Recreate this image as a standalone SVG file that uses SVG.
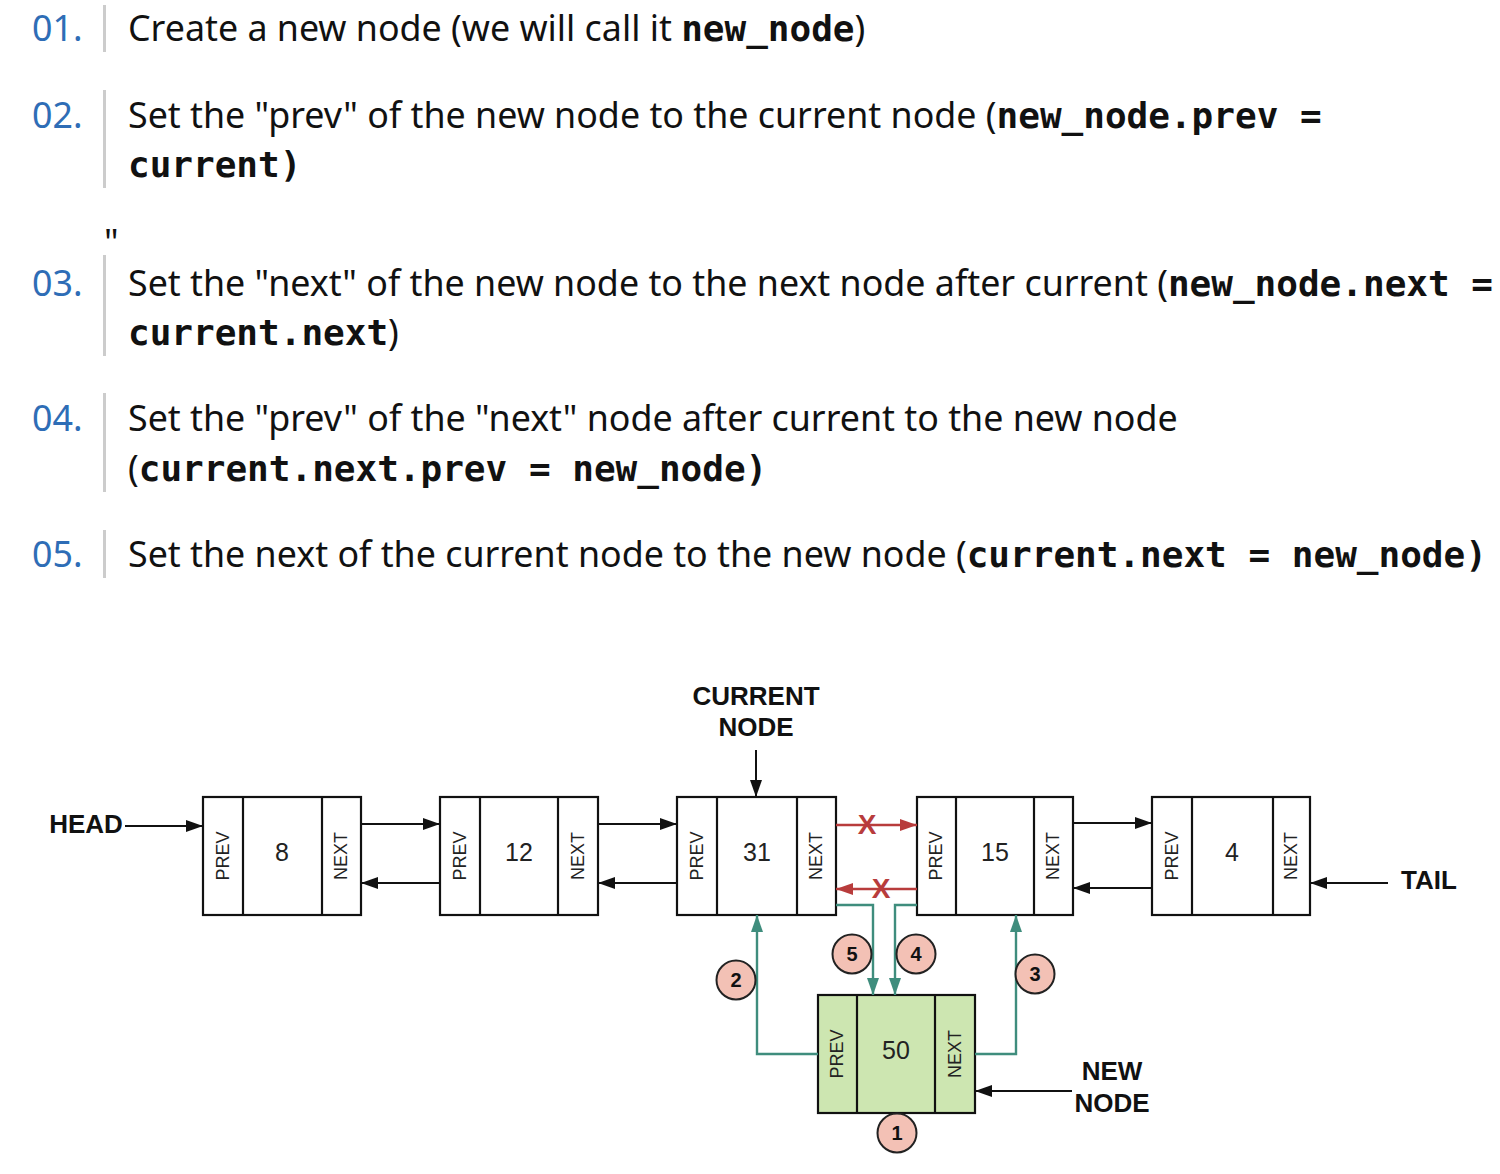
<svg xmlns="http://www.w3.org/2000/svg" width="1500" height="1174" viewBox="0 0 1500 1174">
<style>
.t{font-family:"Noto Sans","Open Sans",sans-serif;font-size:35.8px;fill:#111}
.num{font-family:"Noto Sans","Open Sans",sans-serif;font-size:35.8px;fill:#2e6db6}
.m{font-family:"DejaVu Sans Mono","Liberation Mono",monospace;font-size:36px;font-weight:bold;fill:#111}
.bar{fill:#cccccc}
.box{fill:#fff;stroke:#111;stroke-width:2.2}
.newbox{fill:#cde6b1;stroke:#111;stroke-width:2.2}
.div{stroke:#111;stroke-width:2.2}
.fld{font-family:"Liberation Sans",Arial,sans-serif;font-size:18px;fill:#222;text-anchor:middle;dominant-baseline:central}
.val{font-family:"Liberation Sans",Arial,sans-serif;font-size:25px;fill:#222;text-anchor:middle;dominant-baseline:central}
.lbl{font-family:"Liberation Sans",Arial,sans-serif;font-size:26px;font-weight:bold;fill:#111;text-anchor:middle}
.blk{stroke:#111;stroke-width:2;fill:none;marker-end:url(#ab)}
.red{stroke:#b83c3c;stroke-width:2.4;fill:none;marker-end:url(#ar)}
.teal{stroke:#3f8d7d;stroke-width:2.4;fill:none;marker-end:url(#at)}
.x{font-family:"Liberation Sans",Arial,sans-serif;font-size:28px;font-weight:bold;fill:#b83c3c;text-anchor:middle;dominant-baseline:central}
.step circle{fill:#f3c1b5;stroke:#222;stroke-width:2}
.step text{font-family:"Liberation Sans",Arial,sans-serif;font-size:20px;font-weight:bold;fill:#111;text-anchor:middle;dominant-baseline:central}
</style>
<defs>
<marker id="ab" markerUnits="userSpaceOnUse" markerWidth="17" markerHeight="12" refX="17" refY="6" orient="auto"><path d="M0,0 L17,6 L0,12 z" fill="#111"/></marker>
<marker id="ar" markerUnits="userSpaceOnUse" markerWidth="17" markerHeight="12" refX="17" refY="6" orient="auto"><path d="M0,0 L17,6 L0,12 z" fill="#b83c3c"/></marker>
<marker id="at" markerUnits="userSpaceOnUse" markerWidth="17" markerHeight="12" refX="17" refY="6" orient="auto"><path d="M0,0 L17,6 L0,12 z" fill="#3f8d7d"/></marker>
</defs>
<rect width="1500" height="1174" fill="#fff"/>

<g id="steps">
<rect class="bar" x="103" y="5" width="3" height="47"/>
<text class="num" x="32" y="41">01.</text>
<text class="t" x="128" y="41">Create a new node (we will call it <tspan class="m">new_node</tspan>)</text>

<rect class="bar" x="103" y="90" width="3" height="98"/>
<text class="num" x="32" y="128">02.</text>
<text class="t" x="128" y="128">Set the "prev" of the new node to the current node (<tspan class="m">new_node.prev =</tspan></text>
<text class="t" x="128" y="177"><tspan class="m">current)</tspan></text>

<text class="t" x="104" y="255">"</text>

<rect class="bar" x="103" y="255" width="3" height="101"/>
<text class="num" x="32" y="296">03.</text>
<text class="t" x="128" y="296">Set the "next" of the new node to the next node after current (<tspan class="m">new_node.next =</tspan></text>
<text class="t" x="128" y="345"><tspan class="m">current.next</tspan>)</text>

<rect class="bar" x="103" y="393" width="3" height="99"/>
<text class="num" x="32" y="431">04.</text>
<text class="t" x="128" y="431">Set the "prev" of the "next" node after current to the new node</text>
<text class="t" x="128" y="481">(<tspan class="m">current.next.prev = new_node)</tspan></text>

<rect class="bar" x="103" y="530" width="3" height="48"/>
<text class="num" x="32" y="567">05.</text>
<text class="t" x="128" y="567">Set the next of the current node to the new node (<tspan class="m">current.next = new_node)</tspan></text>
</g>

<g id="labels">
<text class="lbl" x="86" y="833">HEAD</text>
<text class="lbl" x="756" y="705">CURRENT</text>
<text class="lbl" x="756" y="736">NODE</text>
<text class="lbl" x="1429" y="889">TAIL</text>
<text class="lbl" x="1112" y="1080">NEW</text>
<text class="lbl" x="1112" y="1112">NODE</text>
</g>

<g id="node-8">
<rect class="box" x="203" y="797" width="158" height="118"/>
<line class="div" x1="243" y1="797" x2="243" y2="915"/>
<line class="div" x1="322" y1="797" x2="322" y2="915"/>
<text class="fld" transform="translate(223,856) rotate(-90)">PREV</text>
<text class="val" x="282" y="852">8</text>
<text class="fld" transform="translate(341,856) rotate(-90)">NEXT</text>
</g>
<g id="node-12">
<rect class="box" x="440" y="797" width="158" height="118"/>
<line class="div" x1="480" y1="797" x2="480" y2="915"/>
<line class="div" x1="558" y1="797" x2="558" y2="915"/>
<text class="fld" transform="translate(460,856) rotate(-90)">PREV</text>
<text class="val" x="519" y="852">12</text>
<text class="fld" transform="translate(578,856) rotate(-90)">NEXT</text>
</g>
<g id="node-31">
<rect class="box" x="677" y="797" width="159" height="118"/>
<line class="div" x1="717" y1="797" x2="717" y2="915"/>
<line class="div" x1="797" y1="797" x2="797" y2="915"/>
<text class="fld" transform="translate(697,856) rotate(-90)">PREV</text>
<text class="val" x="757" y="852">31</text>
<text class="fld" transform="translate(816,856) rotate(-90)">NEXT</text>
</g>
<g id="node-15">
<rect class="box" x="917" y="797" width="156" height="118"/>
<line class="div" x1="956" y1="797" x2="956" y2="915"/>
<line class="div" x1="1034" y1="797" x2="1034" y2="915"/>
<text class="fld" transform="translate(936,856) rotate(-90)">PREV</text>
<text class="val" x="995" y="852">15</text>
<text class="fld" transform="translate(1053,856) rotate(-90)">NEXT</text>
</g>
<g id="node-4">
<rect class="box" x="1152" y="797" width="158" height="118"/>
<line class="div" x1="1192" y1="797" x2="1192" y2="915"/>
<line class="div" x1="1273" y1="797" x2="1273" y2="915"/>
<text class="fld" transform="translate(1172,856) rotate(-90)">PREV</text>
<text class="val" x="1232" y="852">4</text>
<text class="fld" transform="translate(1291,856) rotate(-90)">NEXT</text>
</g>
<g id="node-50">
<rect class="newbox" x="818" y="995" width="157" height="118"/>
<line class="div" x1="857" y1="995" x2="857" y2="1113"/>
<line class="div" x1="935" y1="995" x2="935" y2="1113"/>
<text class="fld" transform="translate(837,1054) rotate(-90)">PREV</text>
<text class="val" x="896" y="1050">50</text>
<text class="fld" transform="translate(955,1054) rotate(-90)">NEXT</text>
</g>

<g id="connectors">
<line class="blk" x1="125" y1="826" x2="203" y2="826"/>
<line class="blk" x1="361" y1="824" x2="440" y2="824"/>
<line class="blk" x1="440" y1="883" x2="361" y2="883"/>
<line class="blk" x1="598" y1="824" x2="677" y2="824"/>
<line class="blk" x1="677" y1="883" x2="598" y2="883"/>
<line class="blk" x1="1073" y1="823" x2="1152" y2="823"/>
<line class="blk" x1="1152" y1="888" x2="1073" y2="888"/>
<line class="blk" x1="1388" y1="883" x2="1310" y2="883"/>
<line class="blk" x1="756" y1="750" x2="756" y2="797"/>
<line class="blk" x1="1072" y1="1091" x2="975" y2="1091"/>
<line class="red" x1="836" y1="825" x2="917" y2="825"/>
<text class="x" x="867" y="824">X</text>
<line class="red" x1="917" y1="889" x2="836" y2="889"/>
<text class="x" x="881" y="888">X</text>
<polyline class="teal" points="836,905 873,905 873,995"/>
<polyline class="teal" points="917,905 895,905 895,995"/>
<polyline class="teal" points="818,1054 757,1054 757,915"/>
<polyline class="teal" points="975,1054 1016,1054 1016,915"/>
</g>

<g id="step-markers" class="step">
<g id="step-1"><circle cx="897" cy="1133" r="19.5"/><text x="897" y="1133">1</text></g>
<g id="step-2"><circle cx="736" cy="980" r="19.5"/><text x="736" y="980">2</text></g>
<g id="step-3"><circle cx="1035" cy="974" r="19.5"/><text x="1035" y="974">3</text></g>
<g id="step-4"><circle cx="916" cy="954" r="19.5"/><text x="916" y="954">4</text></g>
<g id="step-5"><circle cx="852" cy="954" r="19.5"/><text x="852" y="954">5</text></g>
</g>
</svg>
